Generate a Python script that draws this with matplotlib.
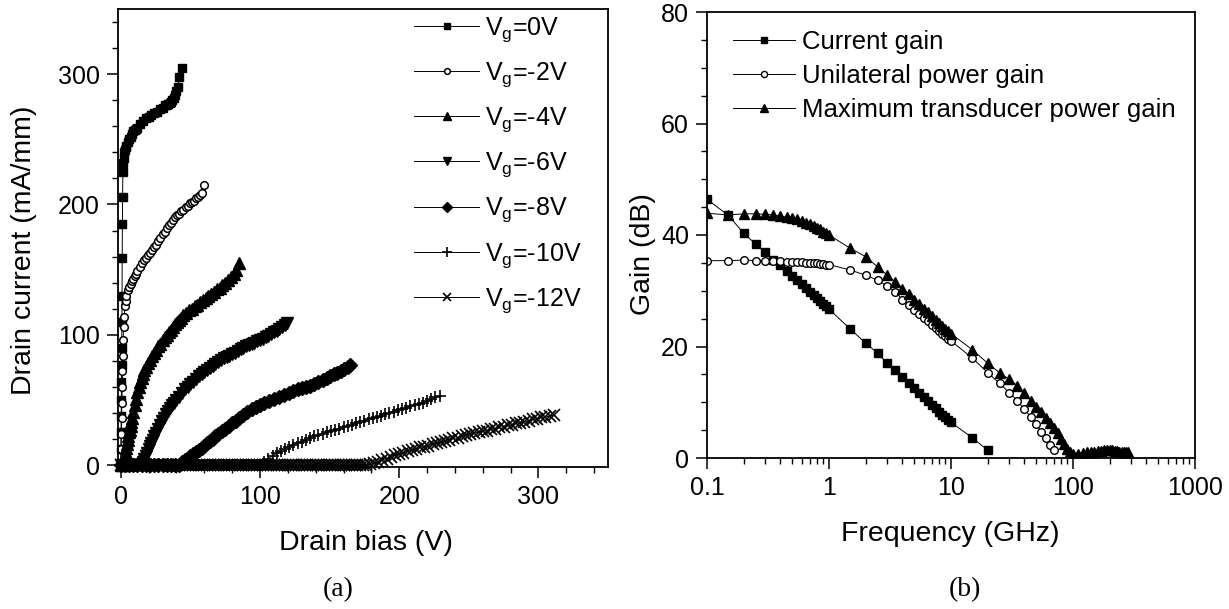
import matplotlib
matplotlib.use("Agg")
import matplotlib.pyplot as plt
from matplotlib.ticker import MultipleLocator, FixedLocator, FixedFormatter, LogLocator, NullFormatter

plt.rcParams['font.family'] = ['Liberation Sans', 'DejaVu Sans']
plt.rcParams['mathtext.default'] = 'regular'

# ---------------- (a) drain I-V data ----------------
labels_a = ['V$_g$=0V', 'V$_g$=-2V', 'V$_g$=-4V', 'V$_g$=-6V', 'V$_g$=-8V', 'V$_g$=-10V', 'V$_g$=-12V']

v_0 = [0, 0.1, 0.2, 0.3, 0.4, 0.5, 0.6, 0.7, 0.8, 0.9, 1.0, 1.15, 1.3, 1.5, 1.7, 2, 2.5, 3, 3.5, 4,
       5, 6, 7, 8, 9, 10, 11, 12, 14, 16, 18, 20, 22, 24, 26, 28, 30, 32, 33, 34,
       35, 36, 37, 38, 39, 40, 41, 42, 44]
i_0 = [0, 12, 25, 38, 50, 64, 77, 90, 110, 130, 159, 185, 206, 225, 232, 236, 240, 242, 244, 245,
       248, 250, 252, 254, 256, 257, 258, 259, 262, 264, 266, 267, 269, 270, 271, 273, 274, 276, 276, 277,
       278, 279, 280, 282, 284, 287, 290, 298, 305]

v_2 = [0, 0.2, 0.4, 0.6, 0.8, 1.0, 1.2, 1.4, 1.7, 2.0, 2.4, 3, 3.5, 4, 5, 6, 7, 8, 9, 10,
       11, 12, 13.5, 15, 16.5, 18, 19.5, 21, 22.5, 24, 25.5, 27, 28.5, 30, 31.5, 33, 34.5, 36, 37.5, 39,
       40.5, 42, 43.5, 45, 46.5, 48, 49.5, 51, 52.5, 54, 55.5, 57, 58, 59.5]
i_2 = [0, 12, 24, 36, 48, 60, 72, 84, 96, 106, 114, 122, 126, 130, 134, 137, 139, 141, 143, 145,
       147, 149, 152, 155, 157, 159, 161, 163, 165, 167, 169, 172, 174, 177, 179, 182, 184, 186, 188, 190,
       192, 193, 195, 196, 198, 199, 201, 202, 203, 205, 206, 207, 209, 215]

v_4 = [0, 1, 2, 2.5, 3, 3.5, 4, 4.5, 5, 5.5, 6, 6.5, 7, 7.5, 8, 9, 10, 11, 12, 13,
       14, 15, 16, 17, 18, 19.5, 21, 22.5, 24, 25.5, 27, 28.5, 30, 31.5, 33, 34.5, 36, 37.5, 39, 40.5,
       42, 43.5, 45, 47, 49, 51, 53, 55, 57, 59, 61, 63, 65, 67, 69, 71, 73, 75, 77, 79,
       81, 83, 85]
i_4 = [0, 0, 1, 3, 5, 9, 13, 16, 19, 22, 25, 27, 30, 33, 36, 41, 46, 51, 56, 60,
       64, 67, 70, 73, 75, 78, 81, 84, 86, 88, 91, 93, 96, 98, 100, 102, 104, 106, 108, 110,
       111, 113, 115, 117, 119, 120, 122, 123, 125, 127, 128, 130, 131, 133, 135, 136, 138, 140, 142, 144,
       147, 150, 155]

v_6 = [0, 2, 4, 6, 8, 10, 12, 14, 15, 16, 17, 18, 19, 20, 21, 22, 23, 24, 25, 26.5,
       28, 29.5, 31, 32.5, 34, 35.5, 37, 38.5, 40, 42, 44, 46, 48, 50, 52, 54, 56, 58,
       60, 62, 64, 66, 68, 70, 72, 74, 76, 78, 80, 82, 84, 86, 88, 90, 92, 94, 96, 98,
       100, 102, 104, 106, 108, 110, 112, 114, 116, 118, 119.5]
i_6 = [0, 0, 0, 0, 0, 0, 0, 0, 0.5, 2, 4.5, 7, 9.5, 12, 14.5, 17, 19.5, 22, 24.5, 28,
       31, 33.5, 36, 39, 41.5, 44, 46, 48, 50, 52.5, 55, 58, 60, 62, 64, 66, 68, 70,
       71.5, 73, 74.5, 76, 77.5, 79, 80.5, 82, 83, 84, 85, 86, 87.5, 89, 90, 91, 92, 93, 94, 95,
       96, 97, 98, 99, 100.5, 102, 103, 104.5, 106, 107.5, 109]

v_8 = [0, 3, 6, 9, 12, 15, 18, 21, 24, 27, 30, 33, 36, 39, 42,
       44, 46, 48, 50, 52, 54, 56, 58, 60, 62, 64, 66, 68, 70,
       72.5, 75, 77.5, 80, 82.5, 85, 88, 91, 94, 97, 100, 103,
       106.5, 110, 113.5, 117, 120.5, 124, 127, 130, 133, 136, 139, 142, 145, 148,
       150.5, 153, 155.5, 158, 160.5, 163, 165]
i_8 = [0, 0, 0, 0, 0, 0, 0, 0, 0, 0, 0, 0, 0, 0, 0,
       2, 3.5, 5, 7, 8.5, 10, 11.5, 13, 15, 17, 18.5, 20, 22, 24,
       26, 28, 30, 32, 34, 36, 38.5, 41, 43, 44.5, 46, 48,
       49.5, 51, 52.5, 54, 55.5, 57, 58, 59, 60, 61, 62.5, 64, 65, 66.5,
       68, 69.5, 71, 72.5, 74, 75.5, 77]

v_10 = [0, 2, 4, 6, 8, 10, 12, 14, 16, 18, 20, 22, 24, 26, 28, 30, 32, 34, 36, 38,
        40, 42, 44, 46, 48, 50, 52, 54, 56, 58, 60, 62, 64, 66, 68, 70, 72, 74, 76, 78,
        80, 82, 84, 86, 88, 90, 92, 94, 96, 98, 100,
        103, 106, 109, 112, 115, 118, 121, 124, 127, 130, 133, 136, 139, 142, 145, 148, 151, 154, 157, 160,
        163, 166, 169, 172, 175, 178, 181, 184, 187, 190, 193, 196, 199, 202, 205, 208, 211, 214, 217, 220,
        223, 226, 229]
i_10 = [0, 0, 0, 0, 0, 0, 0, 0, 0, 0, 0, 0, 0, 0, 0, 0, 0, 0, 0, 0,
        0, 0, 0, 0, 0, 0, 0, 0, 0, 0, 0, 0, 0, 0, 0, 0, 0, 0, 0, 0,
        0, 0, 0, 0, 0, 0, 0, 0, 0, 0, 0,
        2.5, 5, 7, 9, 11, 12.5, 14, 15.5, 17, 18, 19.5, 21, 22, 23, 24, 25, 26, 27, 28, 29,
        30, 31, 32, 33, 34, 35, 36, 37, 38, 39, 40, 41, 42, 43, 44, 45, 46, 47, 48, 49,
        50.5, 52, 53]

v_12 = [0, 2, 4, 6, 8, 10, 12, 14, 16, 18, 20, 22, 24, 26, 28, 30, 32, 34, 36, 38,
        40, 42, 44, 46, 48, 50, 52, 54, 56, 58, 60, 62, 64, 66, 68, 70, 72, 74, 76, 78,
        80, 82, 84, 86, 88, 90, 92, 94, 96, 98, 100, 102, 104, 106, 108, 110, 112, 114, 116, 118,
        120, 122, 124, 126, 128, 130, 132, 134, 136, 138, 140, 142, 144, 146, 148, 150, 152, 154, 156, 158,
        160, 162, 164, 166, 168, 170, 172, 174, 176,
        179, 182, 185, 188, 191, 194, 197, 200, 203, 206, 209, 212, 215, 218, 221, 224, 227, 230, 233, 236,
        239, 242, 245, 248, 251, 254, 257, 260, 263, 266, 269, 272, 275, 278, 281, 284, 287, 290, 293, 296,
        299, 302, 305, 308, 311]
i_12 = [0, 0, 0, 0, 0, 0, 0, 0, 0, 0, 0, 0, 0, 0, 0, 0, 0, 0, 0, 0,
        0, 0, 0, 0, 0, 0, 0, 0, 0, 0, 0, 0, 0, 0, 0, 0, 0, 0, 0, 0,
        0, 0, 0, 0, 0, 0, 0, 0, 0, 0, 0, 0, 0, 0, 0, 0, 0, 0, 0, 0,
        0, 0, 0, 0, 0, 0, 0, 0, 0, 0, 0, 0, 0, 0, 0, 0, 0, 0, 0, 0,
        0, 0, 0, 0, 0, 0, 0, 0, 0,
        0.5, 1.5, 2.5, 4, 5, 6.5, 7.5, 8.5, 9.5, 10.5, 11.5, 12.5, 13.5, 14, 15, 16, 17, 17.5, 18.5, 19.5,
        20.5, 21, 22, 23, 23.5, 24.5, 25.5, 26, 26.5, 27.5, 28, 29, 29.5, 30.5, 31, 32, 32.5, 33, 34, 35,
        35.5, 36.5, 37, 37.5, 38.5]

# ---------------- (b) gain data ----------------
labels_b = ['Current gain', 'Unilateral power gain', 'Maximum transducer power gain']

f_cg = [0.1, 0.15, 0.2, 0.25, 0.3, 0.35, 0.4, 0.45, 0.5, 0.55, 0.6, 0.65, 0.7, 0.75, 0.8, 0.85, 0.9, 0.95, 1.0,
        1.5, 2, 2.5, 3, 3.5, 4, 4.5, 5, 5.5, 6, 6.5, 7, 7.5, 8, 8.5, 9, 9.5, 10, 15, 20]
g_cg = [46.4, 43.5, 40.3, 38.4, 36.9, 35.5, 34.6, 33.6, 32.7, 31.9, 31.2, 30.5, 29.8, 29.3, 28.7, 28.2, 27.7, 27.2, 26.7,
        23.1, 20.6, 18.8, 17.0, 15.8, 14.5, 13.4, 12.5, 11.6, 10.9, 10.2, 9.5, 8.9, 8.3, 7.8, 7.3, 6.8, 6.4, 3.6, 1.4]

f_ug = [0.1, 0.15, 0.2, 0.25, 0.3, 0.35, 0.4, 0.45, 0.5, 0.55, 0.6, 0.65, 0.7, 0.75, 0.8, 0.85, 0.9, 0.95, 1.0,
        1.5, 2, 2.5, 3, 3.5, 4, 4.5, 5, 5.5, 6, 6.5, 7, 7.5, 8, 8.5, 9, 9.5, 10,
        15, 20, 25, 30, 35, 40, 45, 50, 55, 60, 65, 70]
g_ug = [35.4, 35.4, 35.5, 35.4, 35.4, 35.3, 35.3, 35.2, 35.2, 35.1, 35.1, 35.0, 35.0, 34.9, 34.9, 34.8, 34.8, 34.7, 34.7,
        33.7, 32.8, 31.9, 30.8, 29.8, 28.4, 27.5, 26.6, 25.8, 25.1, 24.5, 23.9, 23.3, 22.8, 22.3, 21.9, 21.4, 21.0,
        17.9, 15.3, 13.4, 11.7, 10.3, 8.7, 7.4, 6.1, 4.7, 3.5, 2.4, 1.4]

f_mt = [0.1, 0.15, 0.2, 0.25, 0.3, 0.35, 0.4, 0.45, 0.5, 0.55, 0.6, 0.65, 0.7, 0.75, 0.8, 0.85, 0.9, 0.95, 1.0,
        1.5, 2, 2.5, 3, 3.5, 4, 4.5, 5, 5.5, 6, 6.5, 7, 7.5, 8, 8.5, 9, 9.5, 10,
        15, 20, 25, 30, 35, 40, 45, 50, 55, 60, 65, 70, 75, 80, 85, 90, 95, 100,
        110, 120, 130, 140, 150, 160, 170, 180, 190, 200, 210, 220, 230, 240, 250, 260, 270, 280]
g_mt = [43.9, 43.6, 43.8, 43.8, 43.7, 43.6, 43.4, 43.2, 43.0, 42.8, 42.5, 42.2, 41.9, 41.6, 41.3, 41.0, 40.6, 40.3, 40.0,
        37.6, 36.1, 34.3, 32.8, 31.6, 30.4, 29.4, 28.4, 27.6, 26.8, 26.1, 25.4, 24.8, 24.2, 23.7, 23.2, 22.7, 22.3,
        19.4, 17.0, 15.3, 14.1, 13.0, 11.6, 10.3, 9.2, 8.2, 7.2, 6.2, 5.3, 4.4, 3.4, 2.5, 1.7, 1.1, 0.8,
        0.8, 0.9, 1.0, 1.0, 1.1, 1.2, 1.3, 1.4, 1.5, 1.5, 1.4, 1.3, 1.2, 1.1, 1.0, 1.0, 1.0, 1.0]

xticks_b = [0.1, 1, 10, 100, 1000]
xticklabels_b = ['0.1', '1', '10', '100', '1000']

# ---------------- figure ----------------
fig = plt.figure(figsize=(12.29, 6.09), dpi=100)
ax1 = fig.add_axes([118/1229, 1-467/609, 490/1229, 458/609])
ax2 = fig.add_axes([707/1229, 1-458/609, 488/1229, 446/609])

TICK = 18
LAB = 20.5

styles_a = [dict(marker='s', ms=5.5, mfc='k'),
            dict(marker='o', ms=5.5, mfc='white', mew=1.1),
            dict(marker='^', ms=8.5, mfc='k'),
            dict(marker='v', ms=8.5, mfc='k'),
            dict(marker='D', ms=7, mfc='k'),
            dict(marker='+', ms=9, mew=1.2),
            dict(marker='x', ms=8, mew=1.2)]
series_a = [(v_0, i_0), (v_2, i_2), (v_4, i_4), (v_6, i_6), (v_8, i_8), (v_10, i_10), (v_12, i_12)]
for (v, i), lab, st in zip(series_a, labels_a, styles_a):
    ax1.plot(v, i, color='k', lw=0.7, mec='k', label=lab, clip_on=False, **st)

ax1.set_xlim(-2, 350)
ax1.set_ylim(-1.5, 350)
ax1.xaxis.set_major_locator(FixedLocator([0, 100, 200, 300]))
ax1.xaxis.set_minor_locator(MultipleLocator(20))
ax1.yaxis.set_major_locator(FixedLocator([0, 100, 200, 300]))
ax1.yaxis.set_minor_locator(MultipleLocator(20))
ax1.set_xlabel('Drain bias (V)', fontsize=LAB)
ax1.set_ylabel('Drain current (mA/mm)', fontsize=LAB)
ax1.xaxis.set_label_coords((366-118)/490, (467-530)/458)
ax1.yaxis.set_label_coords((37-118)/490, (467-250)/458)
leg1 = ax1.legend(loc='upper left', bbox_to_anchor=((414-118)/490, (467-15)/458), frameon=False,
                  fontsize=18, handlelength=2.6, handletextpad=0.25, labelspacing=0.66,
                  borderpad=0, borderaxespad=0, numpoints=1)
for h in leg1.legend_handles:
    h.set_markersize(h.get_markersize() * 0.75)

styles_b = [dict(marker='s', ms=6, mfc='k'),
            dict(marker='o', ms=5.5, mfc='white', mew=1.0),
            dict(marker='^', ms=7.5, mfc='k')]
series_b = [(f_cg, g_cg), (f_ug, g_ug), (f_mt, g_mt)]
for (f, g), lab, st in zip(series_b, labels_b, styles_b):
    ax2.plot(f, g, color='k', lw=0.7, mec='k', label=lab, **st)

ax2.set_xscale('log')
ax2.set_xlim(0.1, 1000)
ax2.set_ylim(0, 80)
ax2.xaxis.set_major_locator(FixedLocator(xticks_b))
ax2.xaxis.set_major_formatter(FixedFormatter(xticklabels_b))
ax2.xaxis.set_minor_locator(LogLocator(base=10, subs=[2, 3, 4, 5, 6, 7, 8, 9], numticks=20))
ax2.xaxis.set_minor_formatter(NullFormatter())
ax2.yaxis.set_major_locator(MultipleLocator(20))
ax2.yaxis.set_minor_locator(MultipleLocator(5))
ax2.set_xlabel('Frequency (GHz)', fontsize=LAB)
ax2.set_ylabel('Gain (dB)', fontsize=LAB)
ax2.xaxis.set_label_coords((950-707)/488, (458-521)/446)
ax2.yaxis.set_label_coords((656-707)/488, (458-254)/446)
leg2 = ax2.legend(loc='upper left', bbox_to_anchor=((733-707)/488, (458-30)/446), frameon=False,
                  fontsize=18.5, handlelength=2.4, handletextpad=0.3, labelspacing=0.38,
                  borderpad=0, borderaxespad=0, numpoints=1)
for h in leg2.legend_handles:
    h.set_markersize(h.get_markersize() * 0.8)

for ax in (ax1, ax2):
    for s in ax.spines.values():
        s.set_linewidth(1.3)
    ax.tick_params(which='major', direction='out', length=8, width=1.1, labelsize=TICK, pad=5,
                   top=False, right=False)
    ax.tick_params(which='minor', direction='out', length=4.5, width=1.0, top=False, right=False)

fig.text(338/1229, 1-590/609, '(a)', ha='center', va='center', fontsize=20, family='Liberation Serif')
fig.text(965/1229, 1-590/609, '(b)', ha='center', va='center', fontsize=20, family='Liberation Serif')

fig.savefig('out.png', dpi=100)
